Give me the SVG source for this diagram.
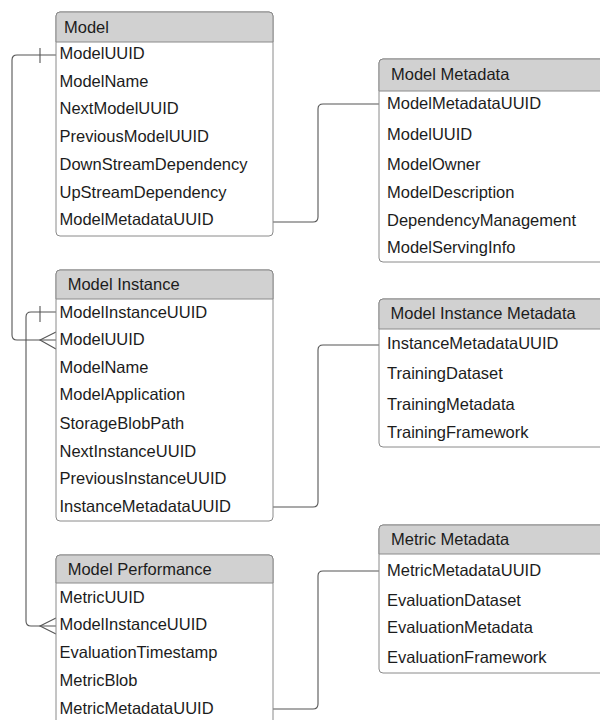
<svg xmlns="http://www.w3.org/2000/svg" width="600" height="720" viewBox="0 0 600 720">
<style>
.box{fill:#fff;stroke:#8a8a8a;stroke-width:1}
.hdr{fill:#d1d1d1;stroke:#8a8a8a;stroke-width:1}
text{font-family:"Liberation Sans",Arial,sans-serif;font-size:16.5px;fill:#1c1c1c}
.conn path{fill:none;stroke:#555;stroke-width:1.1}
</style>
<rect width="600" height="720" fill="#fff"/>
<g class="conn">
<path d="M56 55 H17 Q12 55 12 60 V335 Q12 340 17 340 H56"/>
<path d="M40 48 V63"/>
<path d="M56 332 L40 340 L56 349"/>
<path d="M56 312 H31 Q26 312 26 317 V621 Q26 626 31 626 H56"/>
<path d="M40 306 V322"/>
<path d="M56 618 L40 626 L56 634"/>
<path d="M273 222 H313 Q318 222 318 217 V109 Q318 104 323 104 H379"/>
<path d="M273 507 H313 Q318 507 318 502 V350 Q318 345 323 345 H379"/>
<path d="M273 709 H313 Q318 709 318 704 V576 Q318 571 323 571 H379"/>
</g>
<g id="model">
<rect class="box" x="56" y="12" width="217" height="224" rx="4"/>
<path class="hdr" d="M56 42 V16 Q56 12 60 12 H269 Q273 12 273 16 V42 Z"/>
<text x="64" y="33">Model</text>
<text x="59.5" y="59">ModelUUID</text>
<text x="59.5" y="87">ModelName</text>
<text x="59.5" y="114">NextModelUUID</text>
<text x="59.5" y="142">PreviousModelUUID</text>
<text x="59.5" y="170">DownStreamDependency</text>
<text x="59.5" y="198">UpStreamDependency</text>
<text x="59.5" y="225">ModelMetadataUUID</text>
</g>
<g id="model-metadata">
<rect class="box" x="379" y="59" width="240" height="203" rx="4"/>
<path class="hdr" d="M379 91 V63 Q379 59 383 59 H619 V91 Z"/>
<text x="391" y="80">Model Metadata</text>
<text x="387" y="109">ModelMetadataUUID</text>
<text x="387" y="140">ModelUUID</text>
<text x="387" y="170">ModelOwner</text>
<text x="387" y="198">ModelDescription</text>
<text x="387" y="226">DependencyManagement</text>
<text x="387" y="253">ModelServingInfo</text>
</g>
<g id="model-instance">
<rect class="box" x="56" y="270" width="217" height="251" rx="4"/>
<path class="hdr" d="M56 299 V274 Q56 270 60 270 H269 Q273 270 273 274 V299 Z"/>
<text x="67.7" y="290">Model Instance</text>
<text x="59.5" y="318">ModelInstanceUUID</text>
<text x="59.5" y="345">ModelUUID</text>
<text x="59.5" y="373">ModelName</text>
<text x="59.5" y="400">ModelApplication</text>
<text x="59.5" y="429">StorageBlobPath</text>
<text x="59.5" y="457">NextInstanceUUID</text>
<text x="59.5" y="484">PreviousInstanceUUID</text>
<text x="59.5" y="512">InstanceMetadataUUID</text>
</g>
<g id="model-instance-metadata">
<rect class="box" x="379" y="299" width="240" height="148" rx="4"/>
<path class="hdr" d="M379 329 V303 Q379 299 383 299 H619 V329 Z"/>
<text x="390.5" y="319">Model Instance Metadata</text>
<text x="387" y="349">InstanceMetadataUUID</text>
<text x="387" y="379">TrainingDataset</text>
<text x="387" y="410">TrainingMetadata</text>
<text x="387" y="438">TrainingFramework</text>
</g>
<g id="model-performance">
<rect class="box" x="56" y="555" width="217" height="185" rx="4"/>
<path class="hdr" d="M56 583 V559 Q56 555 60 555 H269 Q273 555 273 559 V583 Z"/>
<text x="67.7" y="575">Model Performance</text>
<text x="59.5" y="603">MetricUUID</text>
<text x="59.5" y="630">ModelInstanceUUID</text>
<text x="59.5" y="658">EvaluationTimestamp</text>
<text x="59.5" y="686">MetricBlob</text>
<text x="59.5" y="714">MetricMetadataUUID</text>
</g>
<g id="metric-metadata">
<rect class="box" x="379" y="525" width="240" height="148" rx="4"/>
<path class="hdr" d="M379 554 V529 Q379 525 383 525 H619 V554 Z"/>
<text x="391" y="545">Metric Metadata</text>
<text x="387" y="576">MetricMetadataUUID</text>
<text x="387" y="606">EvaluationDataset</text>
<text x="387" y="633">EvaluationMetadata</text>
<text x="387" y="663">EvaluationFramework</text>
</g>
</svg>
